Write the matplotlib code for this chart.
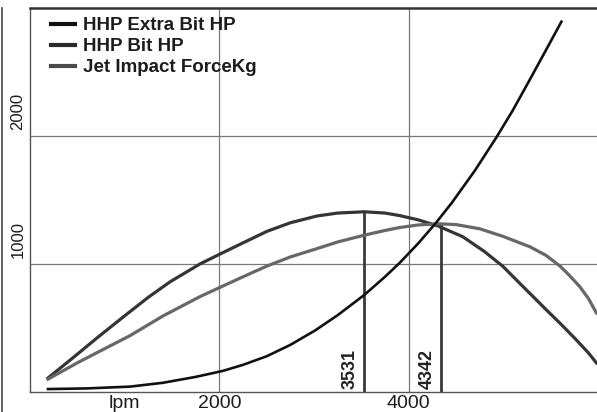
import numpy as np
import matplotlib
matplotlib.use("Agg")
from matplotlib import pyplot as plt
from matplotlib.lines import Line2D

plt.rcParams['font.family'] = ['Liberation Sans', 'DejaVu Sans']

# Values (flow rate in lpm)
extra_q = [190, 600, 1056, 1404, 1750, 2038, 2250, 2503, 2750, 3010, 3250, 3531, 3750,
           3907, 4100, 4287, 4453, 4700, 4928, 5100, 5280, 5450, 5614]
extra_hp = [23, 28, 42, 72, 118, 165, 212, 280, 368, 480, 600, 758, 900,
            1010, 1160, 1320, 1475, 1730, 1990, 2200, 2440, 2670, 2893]

bit_q = [190, 450, 704, 1000, 1250, 1478, 1795, 2000, 2250, 2503, 2750, 3031, 3250,
         3531, 3750, 3907, 4100, 4308, 4572, 4800, 4995, 5200, 5456, 5620, 5773,
         5900, 5984]
bit_hp = [109, 265, 420, 595, 740, 860, 1000, 1075, 1165, 1255, 1322, 1375, 1398,
          1408, 1398, 1378, 1345, 1298, 1213, 1098, 982, 830, 641, 522, 406,
          305, 227]

jet_q = [190, 500, 1056, 1400, 1795, 2000, 2250, 2503, 2750, 3031, 3250, 3531, 3750,
         3907, 4100, 4330, 4500, 4752, 5000, 5280, 5450, 5597, 5700, 5808, 5900,
         5984]
jet_kg = [100, 228, 440, 592, 745, 815, 900, 984, 1055, 1120, 1172, 1225, 1262,
          1285, 1305, 1314, 1308, 1275, 1215, 1135, 1068, 985, 910, 823, 730,
          617]

marks = [3531, 4342]
mark_top = [1408, 1314]
xlabels = ['lpm', '2000', '4000']
xlabel_pos = [1000, 2000, 4000]
ylabels = ['1000', '2000']
ylabel_pos = [1000, 2000]

fig = plt.figure(figsize=(5.97, 4.12), dpi=100)
ax = fig.add_axes([30/597, 20/412, 567/597, 384/412])
ax.set_xlim(0, 5990)
ax.set_ylim(0, 3000)

# grid
for g in [2000, 4000]:
    ax.axvline(g, color='#7a7a7a', lw=0.9, zorder=1)
for g in [1000, 2000]:
    ax.axhline(g, color='#7a7a7a', lw=0.9, zorder=1)

# curves
ax.plot(bit_q, bit_hp, color='#353535', lw=2.3, label='HHP Bit HP', zorder=3)
ax.plot(jet_q, jet_kg, color='#676767', lw=2.3, label='Jet Impact ForceKg', zorder=3)
ax.plot(extra_q, extra_hp, color='#111111', lw=1.9, label='HHP Extra Bit HP', zorder=4)

# marker lines at optimum flow rates
for q, top in zip(marks, mark_top):
    ax.plot([q, q], [0, top], color='#3a3a3a', lw=2.0, zorder=2)
    ax.text(q - 150, 22, str(q), rotation=90, ha='center', va='bottom',
            fontsize=13, fontweight='bold', color='#222222')

# legend
h = [Line2D([], [], color='#111111', lw=3),
     Line2D([], [], color='#2a2a2a', lw=3),
     Line2D([], [], color='#4a4a4a', lw=3)]
ax.legend(h, ['HHP Extra Bit HP', 'HHP Bit HP', 'Jet Impact ForceKg'],
          loc='upper left', bbox_to_anchor=(0.02, 1.0), frameon=False,
          prop={'weight': 'bold', 'size': 13.5}, handlelength=1.3,
          handletextpad=0.4, labelspacing=0.2, borderaxespad=0.1,
          labelcolor='#1c1c1c')

# ticks
ax.set_xticks(xlabel_pos)
ax.set_xticklabels(xlabels, fontsize=14, color='#1c1c1c')
ax.tick_params(axis='x', length=0, pad=2)
ax.set_yticks([])
ytr = ax.get_yaxis_transform()
for lab, v in zip(ylabels, ylabel_pos):
    ax.text(-0.021, v + 50, lab, transform=ytr, rotation=90, ha='center',
            va='bottom', fontsize=12, color='#1c1c1c', clip_on=False)

for s in ['left', 'bottom']:
    ax.spines[s].set_color('#555555')
    ax.spines[s].set_linewidth(1.0)
ax.spines['top'].set_color('#333333')
ax.spines['top'].set_linewidth(1.8)
ax.spines['right'].set_visible(False)

# outer border of the scanned page
fig.add_artist(Line2D([1.5/597, 1.5/597], [0, 404/412], color='#444444', lw=1.2))

fig.savefig('out.png', dpi=100)
